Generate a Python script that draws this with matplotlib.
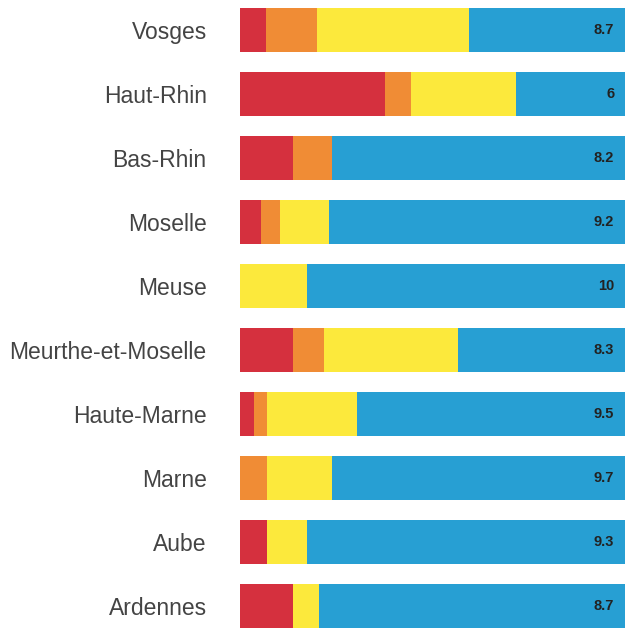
import matplotlib.pyplot as plt
import numpy as np

regions = ['Vosges', 'Haut-Rhin', 'Bas-Rhin', 'Moselle', 'Meuse',
           'Meurthe-et-Moselle', 'Haute-Marne', 'Marne', 'Aube', 'Ardennes']
red = [6.7, 37.6, 13.7, 5.4, 0, 13.7, 3.6, 0, 6.9, 13.7]
orange = [13.3, 6.7, 10.2, 4.9, 0, 8.0, 3.3, 6.9, 0, 0]
yellow = [39.5, 27.3, 0, 12.7, 17.3, 34.9, 23.6, 17.1, 10.4, 6.9]
blue = [40.5, 28.4, 76.1, 77.0, 82.7, 43.4, 69.5, 76.0, 82.7, 79.4]
scores = ['8.7', '6', '8.2', '9.2', '10', '8.3', '9.5', '9.7', '9.3', '8.7']

colors = ['#D5303E', '#F08C35', '#FCE93C', '#279FD3']

plt.rcParams['font.family'] = ['Liberation Sans', 'DejaVu Sans']

fig = plt.figure(figsize=(6.25, 6.28), dpi=100)
ax = fig.add_axes([240 / 625, 0, 385 / 625, 1])

y = np.arange(len(regions))
left = np.zeros(len(regions))
for vals, c in zip([red, orange, yellow, blue], colors):
    ax.barh(y, vals, left=left, height=0.70, color=c, linewidth=0)
    left += np.array(vals)

for i, s in enumerate(scores):
    ax.text(97.2, i, s, ha='right', va='center', fontsize=10.5,
            fontweight='bold', color='#222222')

ax.set_xlim(0, 100)
ax.set_ylim(598 / 64, -30 / 64)
ax.set_yticks(y)
ax.set_yticklabels(regions, fontsize=16.5, color='#444444')
ax.tick_params(axis='y', length=0, pad=24)
ax.set_xticks([])
for sp in ax.spines.values():
    sp.set_visible(False)

fig.savefig('out.png', dpi=100)
